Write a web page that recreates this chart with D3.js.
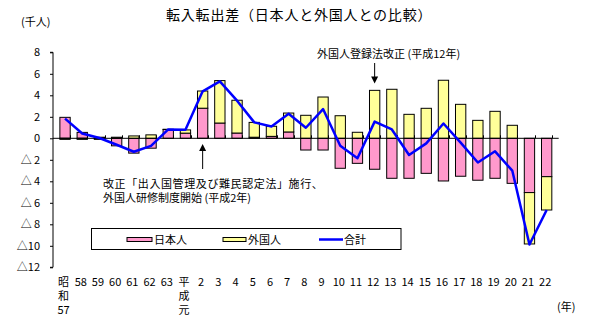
<!DOCTYPE html>
<html><head><meta charset="utf-8">
<script src="https://cdn.jsdelivr.net/npm/d3@7"></script>
<style>
html,body{margin:0;padding:0;background:#fff;}
svg{display:block;}
text{font-family:"Noto Sans CJK JP","Noto Sans",sans-serif;fill:#000;}
</style></head>
<body><svg id="c" width="595" height="327"></svg>
<script>
const categories = ["昭\n和\n57","58","59","60","61","62","63","平\n成\n元","2","3","4","5","6","7","8","9","10","11","12","13","14","15","16","17","18","19","20","21","22"];
const japanese = [1.95,0.55,0.1,-0.7,-1.38,-0.92,0.82,0.48,2.8,1.42,0.49,0.1,0.18,0.59,-1.09,-1.09,-2.79,-2.33,-2.88,-3.72,-3.72,-3.26,-3.97,-3.53,-3.9,-3.72,-4.19,-5.05,-3.57];
const foreign  = [-0.1,-0.1,-0.1,0.1,0.22,0.32,0.02,0.3,1.6,3.95,3.05,1.38,0.94,1.76,2.14,3.84,2.1,0.56,4.46,4.56,2.23,2.79,5.4,3.16,1.67,2.51,1.21,-4.78,-3.1];
const total    = [1.83,0.45,0.03,-0.6,-1.25,-0.7,0.83,0.8,4.37,5.3,3.5,1.48,1.1,2.28,0.98,2.72,-0.69,-1.85,1.55,0.82,-1.55,-0.47,1.38,-0.4,-2.25,-1.21,-3.0,-9.88,-6.67];
const yTicks = [8,6,4,2,0,-2,-4,-6,-8,-10,-12];
const seriesNames = ["日本人","外国人","合計"];
const title = "転入転出差（日本人と外国人との比較）";
const yUnit = "(千人)";
const xUnit = "(年)";
const note1 = ["改正「出入国管理及び難民認定法」施行、","外国人研修制度開始 (平成2年)"];
const note2 = "外国人登録法改正 (平成12年)";

const svg = d3.select("#c");
const L = 53, R = 558.7, T = 52.3, B = 267.3;
const x = d3.scaleBand().domain(d3.range(categories.length)).range([L, R]).padding(0.4);
const y = d3.scaleLinear().domain([-12, 8]).range([B, T]);
const PINK = "#FF99CC", YEL = "#FFFF99", BLUE = "#0000FF";

// title
svg.append("text").attr("x",166).attr("y",19.5).attr("font-size",14).attr("letter-spacing",0.8).text(title);
svg.append("text").attr("x",21).attr("y",26).attr("font-size",11).text(yUnit);

// bars
const bars = svg.append("g");
categories.forEach((c,i)=>{
  const j = japanese[i], f = foreign[i];
  const f0 = (Math.sign(f) === Math.sign(j)) ? j : 0;
  const f1 = f0 + f;
  bars.append("rect").attr("x",x(i)).attr("width",x.bandwidth())
    .attr("y",y(Math.max(0,j))).attr("height",Math.abs(y(0)-y(j)))
    .attr("fill",PINK).attr("stroke","#000").attr("stroke-width",1);
  bars.append("rect").attr("x",x(i)).attr("width",x.bandwidth())
    .attr("y",y(Math.max(f0,f1))).attr("height",Math.abs(y(f0)-y(f1)))
    .attr("fill",YEL).attr("stroke","#000").attr("stroke-width",1);
});

// x axis line at zero with boundary ticks
const step = x.step();
const xa = svg.append("g").attr("stroke","#000").attr("stroke-width",1);
xa.append("line").attr("x1",L).attr("x2",R).attr("y1",y(0)).attr("y2",y(0));
for(let k=1;k<=categories.length;k++){
  const xx = Math.round(L + step*k)+0.5;
  xa.append("line").attr("x1",xx).attr("x2",xx).attr("y1",y(0)).attr("y2",y(0)-3);
}

// y axis
const yAxis = d3.axisLeft(y).tickValues(yTicks).tickSize(3).tickPadding(10)
  .tickFormat(v => v < 0 ? "△" + (Math.abs(v) < 10 ? "\u2009" + Math.abs(v) : Math.abs(v)) : String(v));
const ya = svg.append("g").attr("transform",`translate(${L},0)`).call(yAxis);
ya.select(".domain").attr("d",`M-3,${T}H0V${B}H-3`).attr("stroke","#000");
ya.selectAll(".tick line").attr("stroke","#000");
ya.selectAll(".tick text").attr("font-size",11).attr("font-family",'"Noto Sans CJK JP",sans-serif').attr("fill","#000");

// total line
const line = d3.line().x((d,i)=>x(i)+x.bandwidth()/2).y(d=>y(d));
svg.append("path").datum(total).attr("d",line).attr("fill","none").attr("stroke",BLUE).attr("stroke-width",2.5).attr("stroke-linejoin","round");

// x labels
categories.forEach((c,i)=>{
  const parts = c.split("\n");
  parts.forEach((p,k)=>{
    svg.append("text").attr("font-size",11).attr("text-anchor","middle")
      .attr("x",x(i)+x.bandwidth()/2-1.5).attr("y",286+k*14.2).text(p);
  });
});
svg.append("text").attr("x",557).attr("y",311).attr("font-size",11).text(xUnit);

// annotations
const ax1 = x(8)+x.bandwidth()/2;
svg.append("line").attr("x1",ax1).attr("x2",ax1).attr("y1",169).attr("y2",150).attr("stroke","#000").attr("stroke-width",1);
svg.append("path").attr("d",`M${ax1},144L${ax1-3.5},151L${ax1+3.5},151Z`).attr("fill","#000");
note1.forEach((s,k)=>svg.append("text").attr("x",103).attr("y",187.5+k*14.4).attr("font-size",11).attr("letter-spacing",k===0?0.6:0).text(s));

const ax2 = x(18)+x.bandwidth()/2;
svg.append("line").attr("x1",ax2).attr("x2",ax2).attr("y1",63).attr("y2",77).attr("stroke","#000").attr("stroke-width",1);
svg.append("path").attr("d",`M${ax2},83.5L${ax2-3.5},76.5L${ax2+3.5},76.5Z`).attr("fill","#000");
svg.append("text").attr("x",317).attr("y",58).attr("font-size",11).text(note2);

// legend
const lg = svg.append("g");
lg.append("rect").attr("x",91.5).attr("y",228.5).attr("width",309.5).attr("height",21).attr("fill","#fff").attr("stroke","#000").attr("stroke-width",1);
lg.append("rect").attr("x",127).attr("y",237.5).attr("width",25).attr("height",4).attr("fill",PINK).attr("stroke","#000");
lg.append("text").attr("x",154).attr("y",244).attr("font-size",11).text(seriesNames[0]);
lg.append("rect").attr("x",223).attr("y",237.5).attr("width",23).attr("height",4).attr("fill",YEL).attr("stroke","#000");
lg.append("text").attr("x",248).attr("y",244).attr("font-size",11).text(seriesNames[1]);
lg.append("line").attr("x1",319).attr("x2",343).attr("y1",239.5).attr("y2",239.5).attr("stroke",BLUE).attr("stroke-width",2.5);
lg.append("text").attr("x",344).attr("y",244).attr("font-size",11).text(seriesNames[2]);
</script></body></html>
